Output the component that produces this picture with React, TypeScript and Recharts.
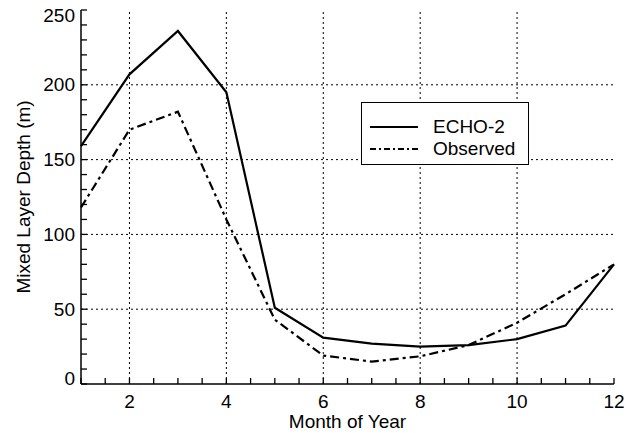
import React from 'react';
import { LineChart, Line, XAxis, YAxis, ReferenceLine, Legend, Label } from 'recharts';

// Monthly mixed layer depth (m), model vs observations
const months = [1, 2, 3, 4, 5, 6, 7, 8, 9, 10, 11, 12];
const echo2 = [159, 207, 236, 195, 51, 31, 27, 25, 26, 30, 39, 80];
const observed = [118, 170, 182, 110, 43, 19, 15, 18.5, 26, 41, 60, 80];

const xTicks = [1, 1.5, 2, 2.5, 3, 3.5, 4, 4.5, 5, 5.5, 6, 6.5, 7, 7.5, 8, 8.5, 9, 9.5, 10, 10.5, 11, 11.5, 12];
const xLabels = [2, 4, 6, 8, 10, 12];
const yTicks = [0, 10, 20, 30, 40, 50, 60, 70, 80, 90, 100, 110, 120, 130, 140, 150, 160, 170, 180, 190, 200, 210, 220, 230, 240, 250];
const yLabels = [0, 50, 100, 150, 200, 250];
const xGrid = [2, 4, 6, 8, 10];
const yGrid = [50, 100, 150, 200];

const data = months.map((m, i) => ({ month: m, echo2: echo2[i], observed: observed[i] }));

const FONT = '"Liberation Sans", Arial, Helvetica, sans-serif';
const TICK_LEN = 6;
const TICK_W = 1.3;

const BottomTick = (props: any) => {
    const { x, y, payload } = props;
    const v = payload.value;
    return (
        <g>
            <path d={`M${x},${y}v${-TICK_LEN}`} stroke="#000" strokeWidth={TICK_W} fill="none" />
            {xLabels.includes(v) ? (
                <text x={x} y={y + 24} textAnchor="middle" fontSize={19} fill="#000" stroke="none">{v}</text>
            ) : null}
        </g>
    );
};

const TopTick = (props: any) => {
    const { x, y } = props;
    return <path d={`M${x},${y}v${TICK_LEN}`} stroke="#000" strokeWidth={TICK_W} fill="none" />;
};

const LeftTick = (props: any) => {
    const { x, y, payload } = props;
    const v = payload.value;
    // end labels are nudged inside the frame
    const ty = v === 0 ? y - 6 : v === 250 ? y + 5 : y;
    return (
        <g>
            <path d={`M${x},${y}h${TICK_LEN}`} stroke="#000" strokeWidth={TICK_W} fill="none" />
            {yLabels.includes(v) ? (
                <text x={x - 6} y={ty} dy="0.35em" textAnchor="end" fontSize={19} fill="#000" stroke="none">{v}</text>
            ) : null}
        </g>
    );
};

const RightTick = (props: any) => {
    const { x, y } = props;
    return <path d={`M${x},${y}h${-TICK_LEN}`} stroke="#000" strokeWidth={TICK_W} fill="none" />;
};

const LegendBox = (props: any) => {
    const { payload } = props;
    return (
        <div style={{ border: '1px solid #000', background: '#fff', width: 168, height: 63, boxSizing: 'border-box', padding: '13px 0 0 8px' }}>
            {(payload || []).map((entry: any) => (
                <div key={entry.value} style={{ display: 'flex', alignItems: 'center', height: 22, fontSize: 19, color: '#000' }}>
                    <svg width={48} height={10} style={{ marginRight: 15 }}>
                        <line x1={0} y1={5} x2={48} y2={5} stroke="#000" strokeWidth={2}
                            strokeDasharray={entry.value === 'Observed' ? '6 3 2 3' : undefined} />
                    </svg>
                    <span>{entry.value}</span>
                </div>
            ))}
        </div>
    );
};

export default function App() {
    return (
        <div style={{ position: 'absolute', left: 0, top: 0, width: 633, height: 433, background: '#fff', fontFamily: FONT }}>
            <LineChart width={633} height={433} data={data} margin={{ top: 10, right: 19, bottom: 0, left: 0 }}>
                <XAxis dataKey="month" type="number" domain={[1, 12]} ticks={xTicks} interval={0}
                    height={49} tickSize={0} tickMargin={0} tick={<BottomTick />}
                    axisLine={{ stroke: '#000', strokeWidth: 1.5 }}>
                    <Label content={() => (
                        <text x={347.5} y={428} textAnchor="middle" fontSize={19} fill="#000" fontFamily={FONT}>Month of Year</text>
                    )} />
                </XAxis>
                {/* top and right axes mirror the bottom/left ones to close the frame */}
                <XAxis xAxisId="top" dataKey="month" orientation="top" type="number" domain={[1, 12]} ticks={xTicks} interval={0}
                    height={0} tickSize={0} tickMargin={0} tick={<TopTick />}
                    axisLine={{ stroke: '#000', strokeWidth: 1.5 }} />
                <YAxis type="number" domain={[0, 250]} ticks={yTicks} interval={0}
                    width={81} tickSize={0} tickMargin={0} tick={<LeftTick />}
                    axisLine={{ stroke: '#000', strokeWidth: 1.5 }}>
                    <Label content={(p: any) => {
                        const vb = p.viewBox || { x: 0, y: 10, height: 374 };
                        const cx = 23;
                        const cy = vb.y + vb.height / 2;
                        return (
                            <text x={cx} y={cy} transform={`rotate(-90 ${cx} ${cy})`} textAnchor="middle"
                                dy="0.35em" fontSize={19} fill="#000" fontFamily={FONT}>Mixed Layer Depth (m)</text>
                        );
                    }} />
                </YAxis>
                <YAxis yAxisId="right" orientation="right" type="number" domain={[0, 250]} ticks={yTicks} interval={0}
                    width={0} tickSize={0} tickMargin={0} tick={<RightTick />}
                    axisLine={{ stroke: '#000', strokeWidth: 1.5 }} />
                {xGrid.map((v) => (
                    <ReferenceLine key={'gx' + v} x={v} stroke="#000" strokeWidth={1} strokeDasharray="2 3" />
                ))}
                {yGrid.map((v) => (
                    <ReferenceLine key={'gy' + v} y={v} stroke="#000" strokeWidth={1} strokeDasharray="2 3" />
                ))}
                <Line type="linear" dataKey="echo2" name="ECHO-2" stroke="#000" strokeWidth={2.2} dot={false} isAnimationActive={false} />
                <Line type="linear" dataKey="observed" name="Observed" xAxisId="top" yAxisId="right" stroke="#000" strokeWidth={2.2}
                    strokeDasharray="9 4 3 4" dot={false} isAnimationActive={false} />
                <Legend layout="vertical" align="center" verticalAlign="middle" content={<LegendBox />}
                    wrapperStyle={{ position: 'absolute', left: 361, top: 102, width: 168, height: 63 }} />
            </LineChart>
        </div>
    );
}
